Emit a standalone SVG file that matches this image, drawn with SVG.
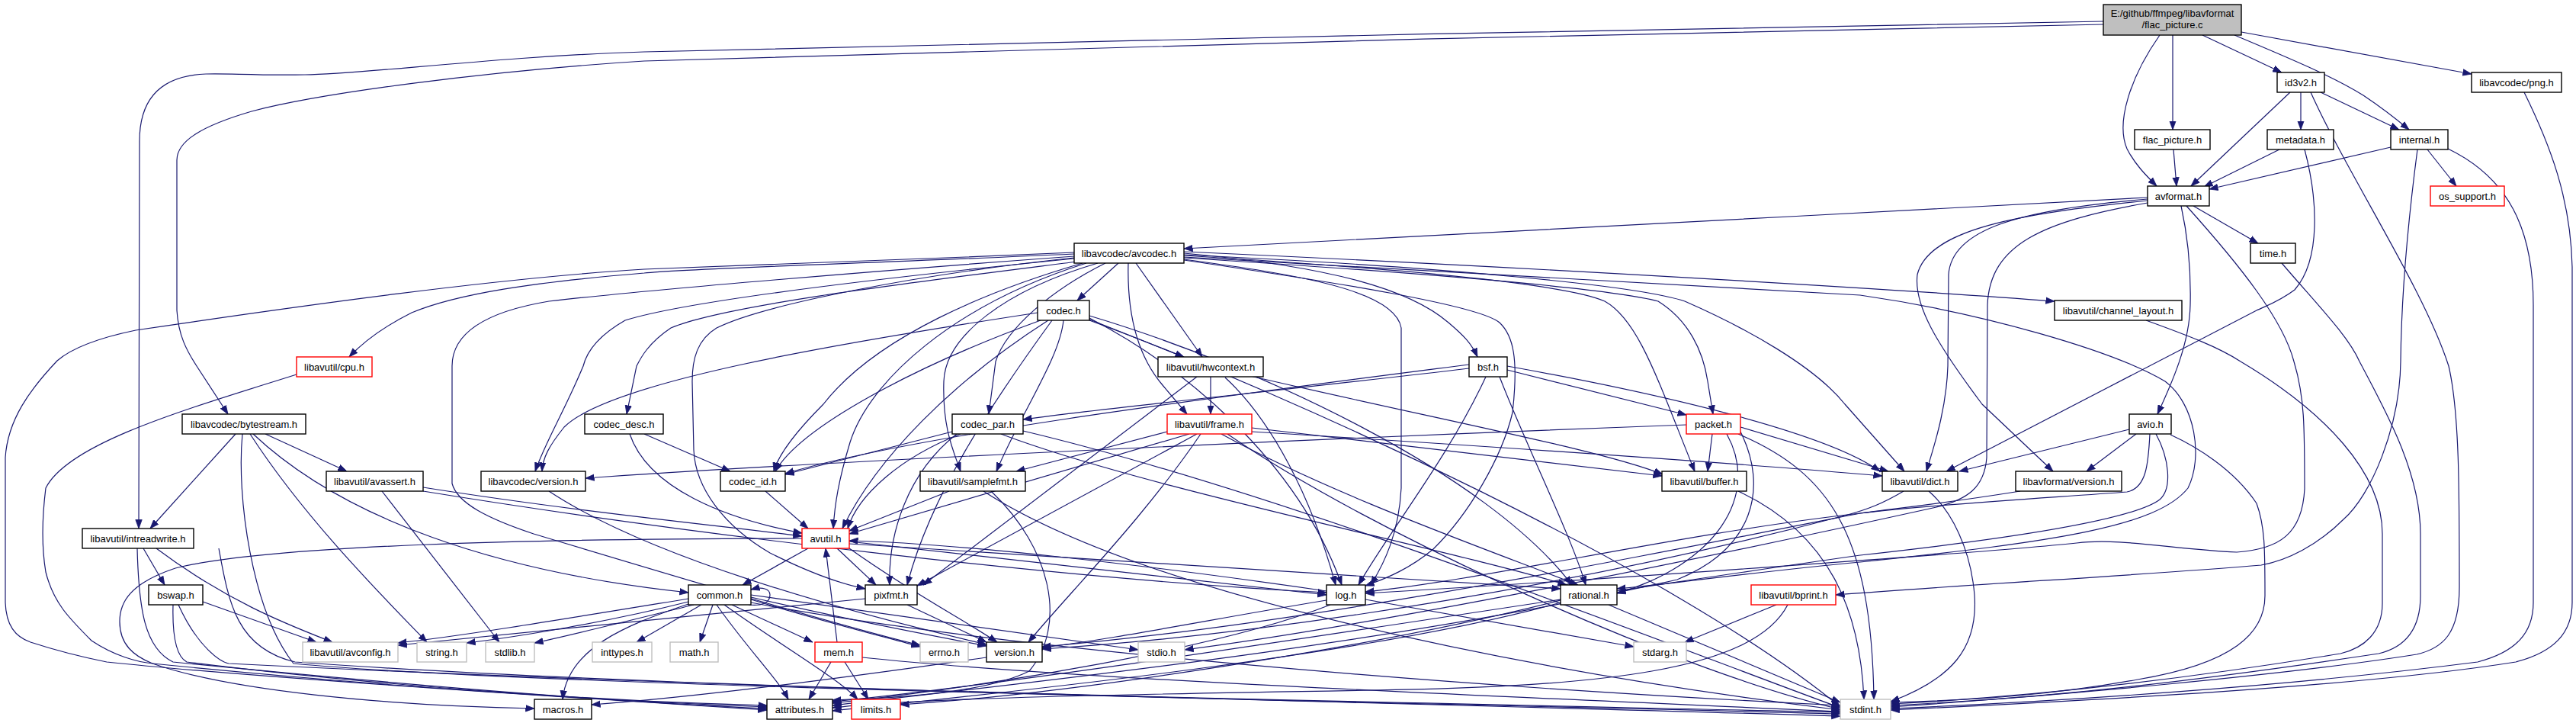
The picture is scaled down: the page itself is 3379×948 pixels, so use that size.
<svg xmlns="http://www.w3.org/2000/svg" width="3379" height="948" viewBox="0 0 3379 948">
<defs>
<marker id="ah" viewBox="0 0 12 10" refX="11.5" refY="5" markerWidth="12" markerHeight="10" markerUnits="userSpaceOnUse" orient="auto">
<path d="M0,0.8 L11.5,5 L0,9.2 z" fill="#191970" stroke="#191970" stroke-width="0.8"/>
</marker>
<style>
.bg{fill:#ffffff}
.n rect{fill:#ffffff;stroke:#000000;stroke-width:1.4}
.n.red rect{stroke:#ff0000}
.n.gray rect{stroke:#bfbfbf}
.n.main rect{fill:#bfbfbf}
.n text{font-family:"Liberation Sans",Arial,sans-serif;font-size:13px;fill:#000000;text-anchor:middle}
#edges path{fill:none;stroke:#191970;stroke-width:1.2;marker-end:url(#ah)}
</style>
</defs>
<rect class="bg" x="0" y="0" width="3379" height="948"/>
<g id="edges">
<path d="M2759,28 C2300,35 1100,60 845,68 C650,74 480,97 400,98 C330,99 300,96 270,97 C215,99 183,125 183,185 L182,693"/>
<path d="M2759,32 C2300,40 1100,68 845,80 C640,93 420,122 330,146 C265,165 232,185 232,210 L232,407 C234,440 245,460 258,480 L299,543"/>
<path d="M2833,46 C2795,100 2775,160 2790,195 C2800,215 2815,230 2829,244"/>
<path d="M2850,46 L2850,170"/>
<path d="M2889,46 L2993,95"/>
<path d="M2931,46 C3000,75 3060,100 3100,125 C3130,145 3148,160 3160,170"/>
<path d="M2940,42 L3242,97"/>
<path d="M2851,196 L2855,244"/>
<path d="M3004,121 L2874,244"/>
<path d="M3018,121 L3018,170"/>
<path d="M3044,121 L3147,170"/>
<path d="M3031,121 C3080,230 3180,380 3212,480 C3226,540 3226,640 3226,770 C3226,830 3205,850 3170,858 C3000,885 2700,912 2480,927"/>
<path d="M2990,196 L2891,245"/>
<path d="M3023,196 C3040,260 3045,340 3010,380 C2990,395 2975,400 2960,407 L2553,618"/>
<path d="M3136,193 L2898,248"/>
<path d="M3184,196 L3222,244"/>
<path d="M3171,196 C3160,280 3150,380 3149,474 C3148,560 3110,650 3074,681 C3040,715 3000,735 2966,741 C2800,755 2600,765 2408,780"/>
<path d="M3211,195 C3290,233 3323,300 3323,400 L3323,790 C3323,830 3300,855 3250,868 C3000,900 2700,920 2480,929"/>
<path d="M3311,121 C3345,190 3372,260 3374,350 L3374,790 C3374,830 3350,855 3300,868 C3100,900 2750,918 2480,931"/>
<path d="M2877,270 L2962,319"/>
<path d="M2817,259 C2400,280 1900,310 1553,326"/>
<path d="M2861,270 C2872,320 2874,360 2873,400 C2872,450 2850,500 2830,543"/>
<path d="M2817,261 C2650,275 2560,300 2556,360 L2555,480 C2553,540 2535,590 2527,618"/>
<path d="M2817,263 C2650,280 2530,300 2515,360 C2510,400 2540,450 2600,530 L2693,618"/>
<path d="M2817,266 C2680,290 2610,320 2607,400 L2606,600 C2603,640 2580,655 2540,665 C2200,740 1800,820 1554,852"/>
<path d="M2868,270 C2940,350 2995,420 3009,474 C3023,520 3023,560 3023,641 C3020,700 2990,720 2934,724 C2850,720 2780,705 2724,712 C2600,725 2100,760 1791,778"/>
<path d="M2993,345 C3040,400 3080,440 3095,474 C3130,540 3175,620 3175,700 L3175,781 C3175,830 3150,850 3120,857 C2900,890 2700,915 2480,925"/>
<path d="M2815,420 C2870,440 2910,455 2939,474 C3050,540 3125,620 3125,700 L3125,791 C3125,830 3100,850 3070,857 C2900,885 2700,912 2480,923"/>
<path d="M2793,563 L2570,618"/>
<path d="M2802,569 L2737,618"/>
<path d="M2847,570 C2880,585 2930,615 2960,660 C2971,690 2971,720 2971,781 C2971,830 2930,870 2804,891 C2700,910 2600,918 2480,921"/>
<path d="M2820,569 C2818,610 2815,640 2790,645 C2700,652 2550,660 2440,673 C2200,700 1950,760 1791,776"/>
<path d="M2828,569 C2845,600 2850,640 2833,655 C2800,680 2650,705 2440,728 C2000,790 1400,890 1092,920"/>
<path d="M2650,644 C2550,660 2500,665 2440,673 C2100,740 1700,820 1367,848"/>
<path d="M1409,333 C1150,345 900,352 845,358 C700,370 600,385 540,410 C500,430 475,450 458,468"/>
<path d="M1409,331 C1200,340 950,350 845,353 C650,365 400,400 178,433 C120,445 90,460 75,473 C40,510 10,550 7,600 L7,790 C8,820 20,835 40,842 C80,855 110,862 140,868 C300,885 600,905 1006,931"/>
<path d="M1409,338 C1200,360 1000,400 940,430 C915,445 908,470 908,500 L910,590 C912,640 950,690 1010,725 C1060,750 1100,765 1135,772"/>
<path d="M1409,339 C1150,365 900,395 820,420 C785,440 770,460 765,480 C740,540 715,580 702,618"/>
<path d="M1413,343 C1200,370 950,400 880,430 C850,450 840,470 835,480 L822,543"/>
<path d="M1467,345 L1413,394"/>
<path d="M1490,345 L1577,468"/>
<path d="M1450,345 C1380,380 1320,430 1306,474 L1297,543"/>
<path d="M1480,345 C1478,420 1495,470 1525,505 L1557,543"/>
<path d="M1420,345 C1300,380 1150,440 1080,530 C1040,570 1020,600 1015,618"/>
<path d="M1425,345 C1250,400 1140,500 1115,580 C1100,630 1095,660 1093,693"/>
<path d="M1440,345 C1320,380 1240,440 1238,500 C1236,560 1250,590 1260,618"/>
<path d="M1409,336 C1150,355 850,380 720,395 C630,410 593,440 593,480 L593,634 C600,660 640,680 700,700 C900,760 1100,820 1207,846"/>
<path d="M1553,335 C1800,350 2050,370 2105,395 C2150,420 2175,500 2223,618"/>
<path d="M1553,338 C1900,360 2120,380 2175,395 C2215,420 2234,460 2240,500 L2247,543"/>
<path d="M1553,334 C1900,350 2150,375 2210,395 C2290,430 2380,480 2420,530 L2498,618"/>
<path d="M1553,330 C2000,350 2500,380 2695,395"/>
<path d="M1553,340 C1700,360 1830,380 1838,430 L1838,640 C1835,700 1815,740 1798,767"/>
<path d="M1553,337 C2000,365 2350,380 2440,387 C2600,410 2773,460 2840,500 C2880,530 2890,600 2870,640 C2830,690 2700,710 2440,737 C2300,750 2200,765 2121,772"/>
<path d="M1553,332 C1750,350 1850,380 1900,423 C1920,440 1930,450 1938,468"/>
<path d="M1553,341 C1750,370 1940,400 1967,423 C1985,440 1992,470 1984,541 C1970,600 1927,674 1880,720 C1850,745 1820,758 1791,768"/>
<path d="M1375,420 C1250,500 1150,600 1105,693"/>
<path d="M1427,418 L1553,468"/>
<path d="M1429,417 C1550,480 1700,600 1760,767"/>
<path d="M1380,420 C1300,530 1220,650 1190,767"/>
<path d="M1429,414 C1650,480 1950,620 2062,767"/>
<path d="M1395,420 C1390,470 1340,540 1307,618"/>
<path d="M1365,420 C1200,480 1050,560 1017,618"/>
<path d="M1361,410 C1100,450 800,500 740,560 C720,585 712,600 711,618"/>
<path d="M1429,420 C1700,520 2200,750 2414,927"/>
<path d="M1588,494 L1588,543"/>
<path d="M1570,494 L1211,767"/>
<path d="M1607,495 C1667,550 1720,650 1752,767"/>
<path d="M1640,493 C1900,553 2100,590 2181,622"/>
<path d="M1977,485 L2212,544"/>
<path d="M1977,480 C2200,520 2400,570 2466,618"/>
<path d="M1949,494 C1900,600 1820,700 1782,767"/>
<path d="M1967,494 C2000,580 2060,700 2080,767"/>
<path d="M1927,478 C1600,520 1200,570 1030,621"/>
<path d="M1927,483 C1700,510 1450,535 1342,550"/>
<path d="M389,491 C250,535 90,580 60,640 C55,680 55,720 60,750 C70,790 90,810 120,840 C150,860 180,868 200,870 C400,890 700,915 1006,927"/>
<path d="M309,569 L197,693"/>
<path d="M348,569 L455,618"/>
<path d="M328,569 C400,680 500,780 560,842"/>
<path d="M332,569 C450,680 650,750 903,777"/>
<path d="M318,569 C310,650 330,800 385,870 C700,900 1800,920 2414,936"/>
<path d="M845,569 L958,618"/>
<path d="M826,569 C850,640 950,680 1052,699"/>
<path d="M1249,566 L1030,622"/>
<path d="M1260,569 C1180,600 1125,650 1112,693"/>
<path d="M1255,569 C1190,620 1165,700 1167,767"/>
<path d="M1313,569 C1500,640 1900,720 2055,767"/>
<path d="M1342,565 C1700,650 2200,850 2414,928"/>
<path d="M1531,566 L1333,618"/>
<path d="M1560,569 L1114,700"/>
<path d="M1570,569 L1203,768"/>
<path d="M1575,569 C1500,680 1400,780 1349,842"/>
<path d="M1602,569 C1750,650 1950,720 2070,767"/>
<path d="M1642,561 L2180,624"/>
<path d="M1642,566 C1950,585 2250,605 2469,624"/>
<path d="M1610,569 C1800,700 2200,880 2414,930"/>
<path d="M2246,569 L2240,618"/>
<path d="M2283,560 L2477,618"/>
<path d="M2265,569 C2310,650 2250,740 2121,778"/>
<path d="M2283,566 C2320,640 2300,720 2200,760 C1800,850 1300,900 1092,925"/>
<path d="M2280,569 C2400,620 2455,700 2458,917"/>
<path d="M2212,557 C1600,580 1000,610 768,627"/>
<path d="M501,644 L655,842"/>
<path d="M555,639 C750,670 950,690 1052,703"/>
<path d="M555,644 C900,700 1400,760 1740,777"/>
<path d="M720,644 C850,730 1100,800 1294,845"/>
<path d="M1004,644 L1060,693"/>
<path d="M1245,644 L1114,696"/>
<path d="M1290,644 C1500,780 2000,880 2414,931"/>
<path d="M1300,644 C1380,720 1400,820 1350,880 C1300,905 1200,915 1092,918"/>
<path d="M2280,644 C2400,700 2440,800 2445,917"/>
<path d="M2530,644 C2560,670 2585,720 2590,780 C2595,850 2560,890 2480,920"/>
<path d="M2497,644 C2470,660 2450,668 2420,676 C2100,760 1700,830 1367,851"/>
<path d="M188,719 L216,767"/>
<path d="M205,719 C300,790 380,820 436,842"/>
<path d="M180,719 C182,800 190,850 227,868 C500,895 800,920 1006,929"/>
<path d="M287,719 C300,790 310,850 387,868 C900,905 1800,920 2414,934"/>
<path d="M1060,719 L974,767"/>
<path d="M1098,719 L1149,767"/>
<path d="M1114,719 C1200,780 1260,810 1308,842"/>
<path d="M1114,710 C1400,740 1600,765 1740,780"/>
<path d="M1114,713 C1500,740 1850,760 2047,772"/>
<path d="M1052,706 C700,706 350,715 230,745 C170,765 157,790 157,815 C157,845 175,860 200,870 C300,905 500,925 701,929"/>
<path d="M266,789 L415,842"/>
<path d="M227,793 C226,830 230,860 245,868 C500,900 800,920 1006,925"/>
<path d="M234,793 C260,850 290,868 300,870 C1000,905 1800,920 2414,939"/>
<path d="M982,793 C1000,795 1010,790 1010,780 C1010,772 1000,769 985,773"/>
<path d="M903,785 C750,810 600,835 522,843"/>
<path d="M903,789 C800,815 680,835 612,843"/>
<path d="M910,793 C820,815 740,835 701,843"/>
<path d="M920,793 L835,842"/>
<path d="M903,792 C820,820 745,850 738,917"/>
<path d="M935,793 L918,842"/>
<path d="M960,793 L1066,842"/>
<path d="M985,786 C1080,815 1160,835 1207,848"/>
<path d="M985,783 C1100,810 1230,835 1294,847"/>
<path d="M985,780 C1200,810 1400,840 1493,852"/>
<path d="M950,793 C1030,850 1100,890 1125,917"/>
<path d="M940,793 C980,850 1020,890 1034,917"/>
<path d="M985,790 C1300,850 1900,900 2414,925"/>
<path d="M1190,793 L1294,842"/>
<path d="M1135,785 C900,810 700,830 522,846"/>
<path d="M1791,786 L2143,848"/>
<path d="M1740,775 C1500,740 1250,712 1114,709"/>
<path d="M1740,787 C1600,810 1450,840 1367,849"/>
<path d="M1745,793 C1600,850 1300,900 1092,922"/>
<path d="M2110,793 L2414,921"/>
<path d="M2047,787 C1800,850 1400,910 1181,924"/>
<path d="M2047,790 C1800,860 1300,910 1092,932"/>
<path d="M2330,793 L2210,842"/>
<path d="M2345,793 C2300,880 2100,900 1800,905 C1500,910 1200,915 1092,928"/>
<path d="M1098,842 L1083,719"/>
<path d="M1090,868 L1061,917"/>
<path d="M1108,868 L1139,917"/>
<path d="M1131,862 C1400,890 1900,910 2414,933"/>
<path d="M1294,862 C1100,890 900,915 776,924"/>
</g>
<g id="n_main" class="n main"><rect x="2759" y="6" width="181" height="40"/><text x="2849.5" y="22">E:/github/ffmpeg/libavformat</text><text x="2849.5" y="37">/flac_picture.c</text></g>
<g id="n_id3v2" class="n"><rect x="2987" y="95" width="62" height="26"/><text x="3018" y="112.5">id3v2.h</text></g>
<g id="n_png" class="n"><rect x="3242" y="95" width="118" height="26"/><text x="3301" y="112.5">libavcodec/png.h</text></g>
<g id="n_flac_picture_h" class="n"><rect x="2800" y="170" width="99" height="26"/><text x="2849.5" y="187.5">flac_picture.h</text></g>
<g id="n_metadata" class="n"><rect x="2974" y="170" width="87" height="26"/><text x="3017.5" y="187.5">metadata.h</text></g>
<g id="n_internal" class="n"><rect x="3136" y="170" width="75" height="26"/><text x="3173.5" y="187.5">internal.h</text></g>
<g id="n_avformat" class="n"><rect x="2817" y="244" width="81" height="26"/><text x="2857.5" y="261.5">avformat.h</text></g>
<g id="n_os_support" class="n red"><rect x="3188" y="244" width="97" height="26"/><text x="3236.5" y="261.5">os_support.h</text></g>
<g id="n_avcodec" class="n"><rect x="1409" y="319" width="144" height="26"/><text x="1481" y="336.5">libavcodec/avcodec.h</text></g>
<g id="n_time" class="n"><rect x="2952" y="319" width="59" height="26"/><text x="2981.5" y="336.5">time.h</text></g>
<g id="n_codec" class="n"><rect x="1361" y="394" width="68" height="26"/><text x="1395" y="411.5">codec.h</text></g>
<g id="n_channel_layout" class="n"><rect x="2695" y="394" width="167" height="26"/><text x="2778.5" y="411.5">libavutil/channel_layout.h</text></g>
<g id="n_cpu" class="n red"><rect x="389" y="468" width="99" height="26"/><text x="438.5" y="485.5">libavutil/cpu.h</text></g>
<g id="n_hwcontext" class="n"><rect x="1519" y="468" width="138" height="26"/><text x="1588" y="485.5">libavutil/hwcontext.h</text></g>
<g id="n_bsf" class="n"><rect x="1927" y="468" width="50" height="26"/><text x="1952" y="485.5">bsf.h</text></g>
<g id="n_bytestream" class="n"><rect x="239" y="543" width="162" height="26"/><text x="320" y="560.5">libavcodec/bytestream.h</text></g>
<g id="n_codec_desc" class="n"><rect x="767" y="543" width="103" height="26"/><text x="818.5" y="560.5">codec_desc.h</text></g>
<g id="n_codec_par" class="n"><rect x="1249" y="543" width="93" height="26"/><text x="1295.5" y="560.5">codec_par.h</text></g>
<g id="n_frame" class="n red"><rect x="1531" y="543" width="111" height="26"/><text x="1586.5" y="560.5">libavutil/frame.h</text></g>
<g id="n_packet" class="n red"><rect x="2212" y="543" width="71" height="26"/><text x="2247.5" y="560.5">packet.h</text></g>
<g id="n_avio" class="n"><rect x="2793" y="543" width="55" height="26"/><text x="2820.5" y="560.5">avio.h</text></g>
<g id="n_avassert" class="n"><rect x="428" y="618" width="127" height="26"/><text x="491.5" y="635.5">libavutil/avassert.h</text></g>
<g id="n_lavc_version" class="n"><rect x="631" y="618" width="137" height="26"/><text x="699.5" y="635.5">libavcodec/version.h</text></g>
<g id="n_codec_id" class="n"><rect x="945" y="618" width="85" height="26"/><text x="987.5" y="635.5">codec_id.h</text></g>
<g id="n_samplefmt" class="n"><rect x="1207" y="618" width="138" height="26"/><text x="1276" y="635.5">libavutil/samplefmt.h</text></g>
<g id="n_buffer" class="n"><rect x="2180" y="618" width="111" height="26"/><text x="2235.5" y="635.5">libavutil/buffer.h</text></g>
<g id="n_dict" class="n"><rect x="2469" y="618" width="99" height="26"/><text x="2518.5" y="635.5">libavutil/dict.h</text></g>
<g id="n_lavf_version" class="n"><rect x="2644" y="618" width="139" height="26"/><text x="2713.5" y="635.5">libavformat/version.h</text></g>
<g id="n_intreadwrite" class="n"><rect x="108" y="693" width="146" height="26"/><text x="181" y="710.5">libavutil/intreadwrite.h</text></g>
<g id="n_avutil" class="n red"><rect x="1052" y="693" width="62" height="26"/><text x="1083" y="710.5">avutil.h</text></g>
<g id="n_bswap" class="n"><rect x="195" y="767" width="71" height="26"/><text x="230.5" y="784.5">bswap.h</text></g>
<g id="n_common" class="n"><rect x="903" y="767" width="82" height="26"/><text x="944" y="784.5">common.h</text></g>
<g id="n_pixfmt" class="n"><rect x="1135" y="767" width="68" height="26"/><text x="1169" y="784.5">pixfmt.h</text></g>
<g id="n_log" class="n"><rect x="1740" y="767" width="51" height="26"/><text x="1765.5" y="784.5">log.h</text></g>
<g id="n_rational" class="n"><rect x="2047" y="767" width="74" height="26"/><text x="2084" y="784.5">rational.h</text></g>
<g id="n_bprint" class="n red"><rect x="2297" y="767" width="111" height="26"/><text x="2352.5" y="784.5">libavutil/bprint.h</text></g>
<g id="n_avconfig" class="n gray"><rect x="397" y="842" width="125" height="26"/><text x="459.5" y="859.5">libavutil/avconfig.h</text></g>
<g id="n_string" class="n gray"><rect x="547" y="842" width="65" height="26"/><text x="579.5" y="859.5">string.h</text></g>
<g id="n_stdlib" class="n gray"><rect x="637" y="842" width="64" height="26"/><text x="669" y="859.5">stdlib.h</text></g>
<g id="n_inttypes" class="n gray"><rect x="777" y="842" width="78" height="26"/><text x="816" y="859.5">inttypes.h</text></g>
<g id="n_math" class="n gray"><rect x="879" y="842" width="63" height="26"/><text x="910.5" y="859.5">math.h</text></g>
<g id="n_mem" class="n red"><rect x="1069" y="842" width="62" height="26"/><text x="1100" y="859.5">mem.h</text></g>
<g id="n_errno" class="n gray"><rect x="1207" y="842" width="63" height="26"/><text x="1238.5" y="859.5">errno.h</text></g>
<g id="n_version" class="n"><rect x="1294" y="842" width="73" height="26"/><text x="1330.5" y="859.5">version.h</text></g>
<g id="n_stdio" class="n gray"><rect x="1493" y="842" width="61" height="26"/><text x="1523.5" y="859.5">stdio.h</text></g>
<g id="n_stdarg" class="n gray"><rect x="2143" y="842" width="69" height="26"/><text x="2177.5" y="859.5">stdarg.h</text></g>
<g id="n_macros" class="n"><rect x="701" y="917" width="75" height="26"/><text x="738.5" y="934.5">macros.h</text></g>
<g id="n_attributes" class="n"><rect x="1006" y="917" width="86" height="26"/><text x="1049" y="934.5">attributes.h</text></g>
<g id="n_limits" class="n red"><rect x="1117" y="917" width="64" height="26"/><text x="1149" y="934.5">limits.h</text></g>
<g id="n_stdint" class="n gray"><rect x="2414" y="917" width="66" height="26"/><text x="2447" y="934.5">stdint.h</text></g>
</svg>
